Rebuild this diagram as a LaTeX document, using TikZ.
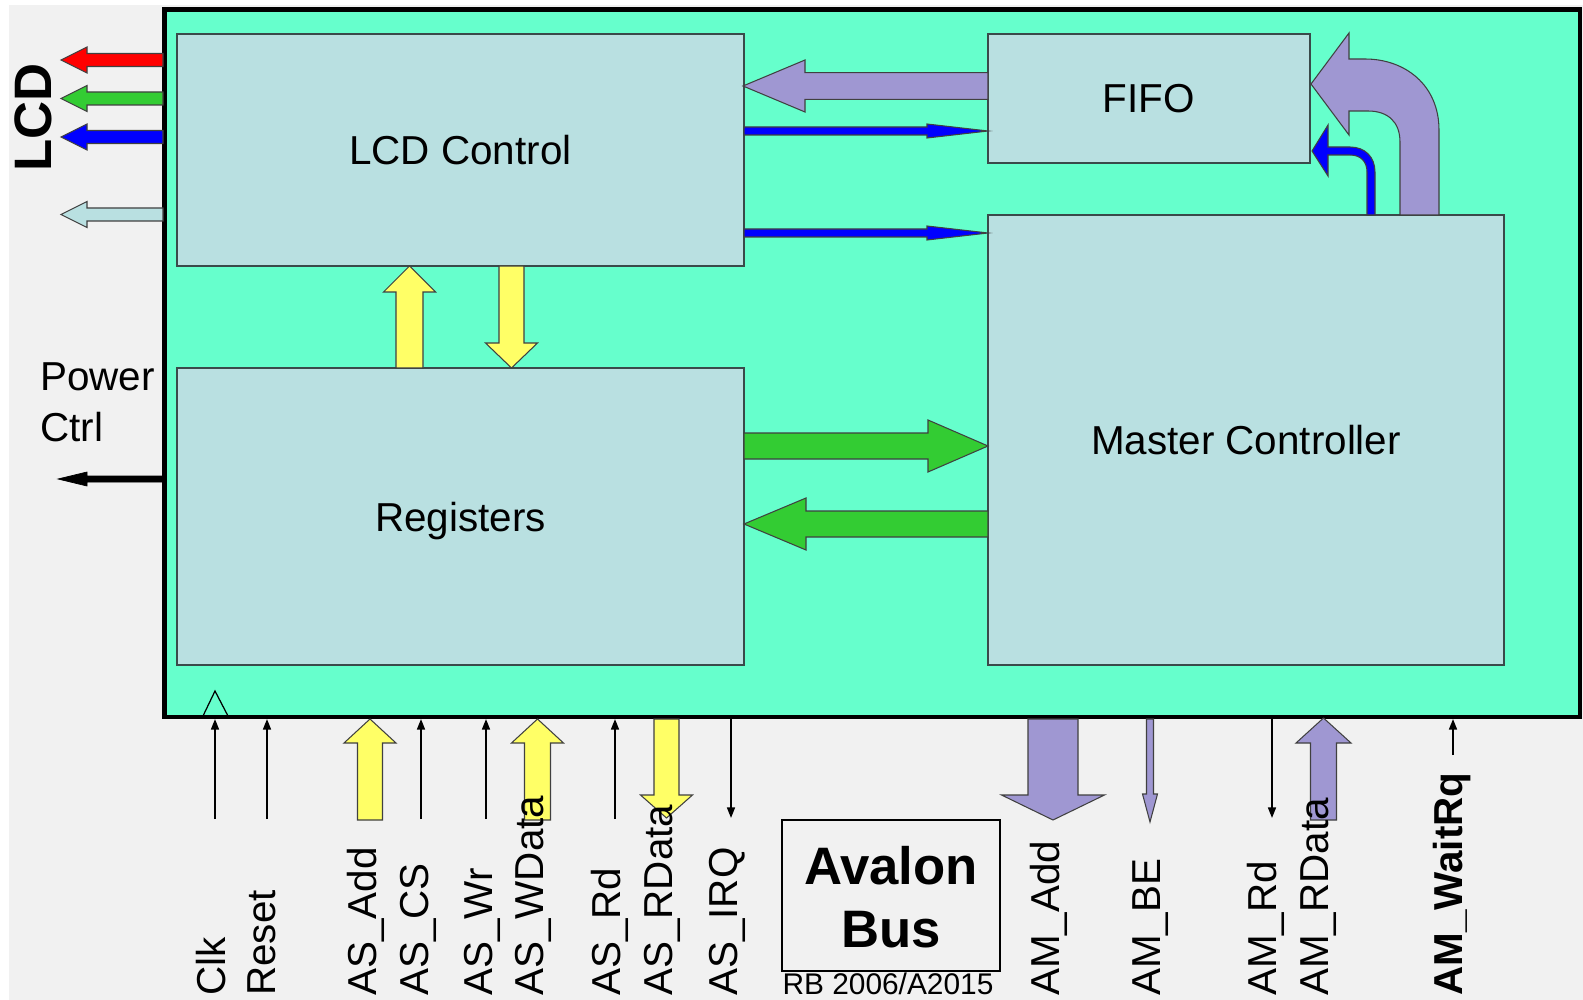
\documentclass[tikz,border=0pt]{standalone}
\usepackage{fontspec}
\setmainfont{Liberation Sans}
\usetikzlibrary{arrows.meta}
\definecolor{boxgreen}{HTML}{66FFCC}
\definecolor{blockblue}{HTML}{B9E0E1}
\definecolor{purp}{HTML}{9F97D2}
\definecolor{yel}{HTML}{FFFF66}
\definecolor{grn}{HTML}{33CC33}
\definecolor{bgray}{HTML}{F1F1F1}
\definecolor{edge}{HTML}{3A4A4A}
% horizontal fat arrow: style, x tail, x head base, x tip, y centre, half shaft, half head
\newcommand\harr[7]{\filldraw[#1] ({#2},{#5-#6}) -- ({#3},{#5-#6}) -- ({#3},{#5-#7}) -- ({#4},{#5}) -- ({#3},{#5+#7}) -- ({#3},{#5+#6}) -- ({#2},{#5+#6}) -- cycle;}
% vertical fat arrow: style, y tail, y head base, y tip, x centre, half shaft, half head
\newcommand\varr[7]{\filldraw[#1] ({#5-#6},{#2}) -- ({#5-#6},{#3}) -- ({#5-#7},{#3}) -- ({#5},{#4}) -- ({#5+#7},{#3}) -- ({#5+#6},{#3}) -- ({#5+#6},{#2}) -- cycle;}
\tikzset{
  block/.style={draw=edge, line width=0.8pt, fill=blockblue, inner sep=0pt, outer sep=0pt,
    text depth=0pt, font=\fontsize{23}{27}\selectfont},
  fat/.style={draw=black!75, line width=0.6pt, line join=miter},
  sig/.style={rotate=90, anchor=west, inner sep=0pt, font=\fontsize{23}{27}\selectfont},
  sigline/.style={line width=1pt, -{Triangle[length=6pt,width=4.5pt]}},
}
\begin{document}
\begin{tikzpicture}[x=0.02cm, y=-0.02cm]
\useasboundingbox (0,0) rectangle (1583,1000);
\fill[bgray] (0,0) rectangle (1583,1000);
\fill[white] (0,0) rectangle (9,1000);
\fill[white] (0,0) rectangle (1583,5);

% main chip
\node[draw, line width=2.6pt, fill=boxgreen, minimum width=28.31cm, minimum height=14.15cm,
  inner sep=0pt, outer sep=0pt] (chip) at (872.25,363.25) {};

% blocks
\node[block, minimum width=11.34cm, minimum height=4.64cm] (lcd) at (460.5,150) {LCD Control};
\node[block, minimum width=11.34cm, minimum height=5.94cm] (regs) at (460.5,516.5) {Registers};
\node[block, minimum width=6.44cm, minimum height=2.58cm] (fifo) at (1149,98.5) {FIFO};
\node[block, minimum width=10.32cm, minimum height=9.0cm] (master) at (1246,440) {Master Controller};

% internal arrows
\harr{fat, fill=purp}{988}{805}{743}{86}{13.3}{26}
\harr{fat, fill=blue}{744}{927}{988}{131}{4}{7}
\harr{fat, fill=blue}{744}{927}{988}{233}{4}{7}
\harr{fat, fill=grn}{744}{928}{988}{446}{13}{26}
\harr{fat, fill=grn}{988}{806}{744}{524}{13}{26}
\varr{fat, fill=yel}{368}{292}{266}{409.5}{13.5}{26}
\varr{fat, fill=yel}{266}{343}{368}{511.5}{12.5}{26}

% curved arrows into FIFO
\filldraw[fat, fill=purp] (1439,215) -- (1439,130) .. controls (1439,85) and (1405,59) .. (1365,59)
  -- (1349,59) -- (1349,33) -- (1311,84) -- (1349,135) -- (1349,111) -- (1368,111)
  .. controls (1388,111) and (1400,122) .. (1400,142) -- (1400,215) -- cycle;
\filldraw[fat, fill=blue] (1375,215) -- (1375,172) .. controls (1375,157) and (1365,147) .. (1350,147)
  -- (1328,147) -- (1328,125) -- (1312,151) -- (1328,176) -- (1328,155) -- (1350,155)
  .. controls (1361,155) and (1367,162) .. (1367,172) -- (1367,215) -- cycle;

% LCD outputs
\harr{fat, fill=red}{163}{87}{61}{60}{6.5}{13}
\harr{fat, fill=grn}{163}{87}{61}{98.5}{6.5}{13}
\harr{fat, fill=blue}{163}{87}{61}{137}{6.5}{13}
\harr{fat, fill=blockblue}{163}{87}{61}{214.5}{6.5}{13}
\node[rotate=90, anchor=west, inner sep=0pt, font=\bfseries\fontsize{30}{34}\selectfont] (lcdlbl) at (33,172) {LCD};

% power control
\filldraw[black] (163,476) -- (87,476) -- (87,472) -- (58,479) -- (87,486) -- (87,482) -- (163,482) -- cycle;
\node[anchor=base west, inner sep=0pt, font=\fontsize{23}{27}\selectfont] (pw1) at (40,391) {Power};
\node[anchor=base west, inner sep=0pt, font=\fontsize{23}{27}\selectfont] (pw2) at (40,441) {Ctrl};

% clock symbol
\draw[line width=0.7pt] (203,716) -- (215,691) -- (228,716);

% bottom signals
\draw[sigline] (215,819) -- (215,719);
\draw[sigline] (267,819) -- (267,719);
\draw[sigline] (421,819) -- (421,719);
\draw[sigline] (486,819) -- (486,719);
\draw[sigline] (615,819) -- (615,719);
\draw[sigline] (731,719) -- (731,818);
\draw[sigline] (1272,719) -- (1272,818);
\draw[sigline] (1453,755) -- (1453,719);
\varr{fat, fill=yel}{820}{743}{719}{370}{12.5}{26}
\varr{fat, fill=yel}{820}{743}{719}{537.5}{13}{26}
\varr{fat, fill=yel}{719}{795}{818}{666.5}{12.5}{26}
\varr{fat, fill=purp}{719}{795}{820}{1053}{25}{51.5}
\varr{fat, fill=purp}{719}{794}{822}{1150}{3.5}{7.5}
\varr{fat, fill=purp}{820}{743}{718}{1323.5}{13}{27.5}

\node[sig] (clk) at (211,996) {Clk};
\node[sig] (rst) at (262,996) {Reset};
\node[sig] (asadd) at (366,996) {AS\_Add};
\node[sig] (ascs) at (418,996) {AS\_CS};
\node[sig] (aswr) at (482,996) {AS\_Wr};
\node[sig] (aswd) at (533,996) {AS\_WData};
\node[sig] (asrd) at (610,996) {AS\_Rd};
\node[sig] (asrdata) at (662,996) {AS\_RData};
\node[sig] (asirq) at (727,996) {AS\_IRQ};
\node[sig] (amadd) at (1049,996) {AM\_Add};
\node[sig] (ambe) at (1151,996) {AM\_BE};
\node[sig] (amrd) at (1266,996) {AM\_Rd};
\node[sig] (amrdata) at (1319,996) {AM\_RData};
\node[sig, font=\bfseries\fontsize{23}{27}\selectfont] (amwait) at (1452,996) {AM\_WaitRq};

% Avalon bus box
\node[draw, line width=1.6pt, minimum width=4.36cm, minimum height=3.02cm, inner sep=0pt] (avbox) at (891,895.5) {};
\node[align=center, inner sep=0pt, font=\bfseries\fontsize{30}{36}\selectfont] (avtxt) at (891,897) {Avalon\\Bus};
\node[anchor=base, inner sep=0pt, font=\fontsize{17}{20}\selectfont] (rb) at (888,994) {RB 2006/A2015};
\end{tikzpicture}
\end{document}
